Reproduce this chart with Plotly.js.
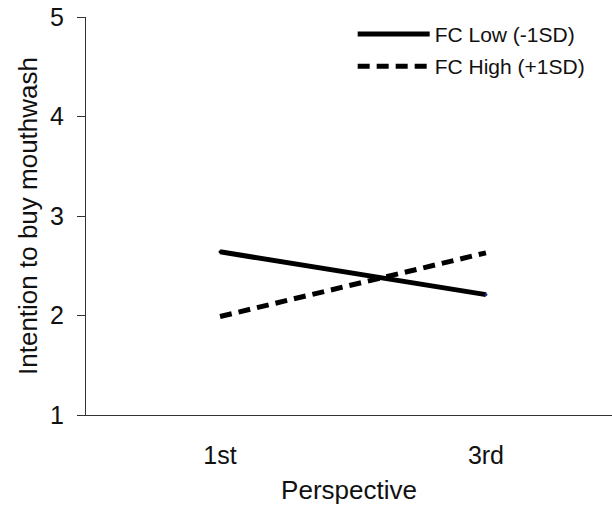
<!DOCTYPE html>
<html>
<head>
<meta charset="utf-8">
<script src="https://cdn.plot.ly/plotly-3.0.1.min.js"></script>
<style>html,body{margin:0;padding:0;background:#fff;}#chart{width:612px;height:513px;}</style>
</head>
<body>
<div id="chart"></div>
<script>
var categories = ["1st", "3rd"];
var seriesNames = ["FC Low (-1SD)", "FC High (+1SD)"];
var fcLow = [2.64, 2.21];
var fcHigh = [1.99, 2.63];
var yTicks = [1, 2, 3, 4, 5];

var FONT = "Liberation Sans, Arial, Helvetica, sans-serif";

var traces = [
  {
    x: categories, y: fcLow, name: seriesNames[0], type: "scatter", mode: "lines+markers",
    legendgroup: "a",
    line: {color: "#000", width: 5, dash: "solid"},
    marker: {size: 3, color: ["#000", "#1c2a8c"], line: {width: 0}}
  },
  {
    x: categories, y: fcHigh, name: seriesNames[1], type: "scatter", mode: "lines",
    legendgroup: "b",
    line: {color: "#000", width: 5, dash: "12px,7px"}
  }
];

var layout = {
  width: 612, height: 513,
  margin: {l: 86, r: 0, t: 17, b: 98, pad: 0},
  paper_bgcolor: "#fff", plot_bgcolor: "#fff",
  font: {family: FONT, color: "#111"},
  showlegend: true,
  legend: {
    x: 0.507, y: 1.008, xanchor: "left", yanchor: "top",
    font: {family: FONT, size: 21, color: "#111"},
    bgcolor: "rgba(0,0,0,0)", itemwidth: 72,
    traceorder: "grouped", tracegroupgap: 2
  },
  xaxis: {
    type: "category", range: [-0.504, 1.474],
    showline: true, linecolor: "#333", linewidth: 1,
    showgrid: false, zeroline: false, ticks: "",
    tickfont: {family: FONT, size: 25, color: "#111"},
    ticklabelstandoff: 18,
    title: {text: "Perspective", font: {family: FONT, size: 26, color: "#111"}, standoff: 12},
    fixedrange: true
  },
  yaxis: {
    range: [1, 5], tickvals: yTicks, ticktext: yTicks.map(String),
    showline: true, linecolor: "#333", linewidth: 1,
    showgrid: false, zeroline: false, ticks: "outside", ticklen: 8, tickcolor: "#333", tickwidth: 1,
    tickfont: {family: FONT, size: 25, color: "#111"},
    ticklabelstandoff: 8,
    title: {text: "Intention to buy mouthwash", font: {family: FONT, size: 26, color: "#111"}, standoff: 4},
    fixedrange: true
  }
};

Plotly.newPlot("chart", traces, layout, {displayModeBar: false, staticPlot: true});
</script>
</body>
</html>
